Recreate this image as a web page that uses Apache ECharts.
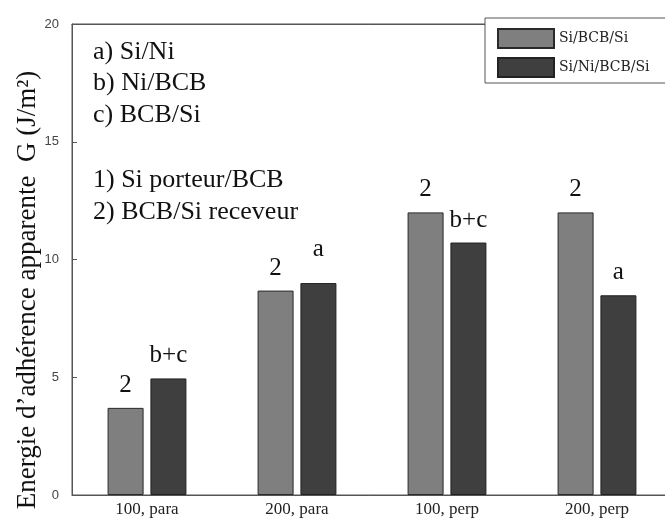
<!DOCTYPE html>
<html>
<head>
<meta charset="utf-8">
<script src="https://cdn.jsdelivr.net/npm/echarts@6/dist/echarts.min.js"></script>
<style>
  html, body { margin: 0; padding: 0; background: #fff; }
  #chart-wrap { width: 665px; height: 521px; }
</style>
</head>
<body>
<div id="chart-wrap"></div>
<script>
;(function(){
  // data
  var categories = ['100, para', '200, para', '100, perp', '200, perp'];
  var seriesNames = ['Si/BCB/Si', 'Si/Ni/BCB/Si'];
  var siBcbSi = [3.7, 8.68, 12.0, 12.0];
  var siNiBcbSi = [4.95, 9.0, 10.72, 8.48];
  var grayLabels = ['2', '2', '2', '2'];
  var darkLabels = ['b+c', 'a', 'b+c', 'a'];
  var yTicks = { min: 0, max: 20, interval: 5 };
  var notes = ['a) Si/Ni', 'b) Ni/BCB', 'c) BCB/Si', '1) Si porteur/BCB', '2) BCB/Si receveur'];
  var noteY = [52, 83, 115, 180, 212];

  var serif = '"Liberation Serif", "Times New Roman", serif';

  function barData(values, labels, extraDist) {
    var out = [];
    for (var i = 0; i < values.length; i++) {
      var d = { value: values[i], label: { formatter: labels[i] } };
      if (extraDist && extraDist[i]) d.label.distance = extraDist[i];
      out.push(d);
    }
    return out;
  }

  var graphics = [];
  for (var i = 0; i < notes.length; i++) {
    graphics.push({
      type: 'text', x: 93, y: noteY[i],
      style: { text: notes[i], fill: '#111', font: '26px ' + serif, verticalAlign: 'middle' }
    });
  }
  graphics.push({
    type: 'text', x: 28, y: 290, rotation: Math.PI / 2,
    style: {
      text: 'Energie d\u2019adh\u00e9rence apparente  G (J/m\u00b2)',
      fill: '#111', font: '27px ' + serif, align: 'center', verticalAlign: 'middle'
    }
  });

  var myChart = echarts.init(document.getElementById('chart-wrap'));
  var option = {
    animation: false,
    backgroundColor: '#fff',
    grid: {
      left: 72, top: 24, width: 600, height: 471,
      show: true, borderColor: '#555', borderWidth: 1,
      outerBoundsMode: 'none'
    },
    legend: {
      orient: 'vertical', left: 485, top: 18,
      padding: [10, 40, 5, 12], itemGap: 8,
      itemWidth: 56, itemHeight: 19, icon: 'rect',
      borderColor: '#555', borderWidth: 1, backgroundColor: '#fff',
      textStyle: { fontFamily: '"DejaVu Serif", serif', fontSize: 14, color: '#222' },
      data: seriesNames
    },
    graphic: graphics,
    xAxis: [{
      type: 'category', data: categories, position: 'bottom',
      axisLine: { lineStyle: { color: '#555' } },
      axisTick: { inside: true, length: 5, alignWithLabel: true, lineStyle: { color: '#555' } },
      axisLabel: { fontFamily: serif, fontSize: 17, color: '#222', margin: 6 }
    }, {
      type: 'category', data: categories, position: 'top',
      axisLine: { lineStyle: { color: '#555' } },
      axisTick: { inside: true, length: 5, alignWithLabel: true, lineStyle: { color: '#555' } },
      axisLabel: { show: false }
    }],
    yAxis: {
      type: 'value', min: yTicks.min, max: yTicks.max, interval: yTicks.interval,
      splitLine: { show: false },
      axisLine: { show: true, lineStyle: { color: '#555' } },
      axisTick: { show: true, inside: true, length: 5, lineStyle: { color: '#555' } },
      axisLabel: { fontFamily: '"Liberation Sans", sans-serif', fontSize: 13, color: '#444', margin: 13 }
    },
    series: [{
      name: seriesNames[0], type: 'bar', barWidth: 36, barGap: '19%',
      itemStyle: { color: '#7f7f7f', borderColor: '#2a2a2a', borderWidth: 1 },
      label: { show: true, position: 'top', distance: 10, fontFamily: serif, fontSize: 25, color: '#111' },
      data: barData(siBcbSi, grayLabels)
    }, {
      name: seriesNames[1], type: 'bar', barWidth: 36,
      itemStyle: { color: '#3f3f3f', borderColor: '#222', borderWidth: 1 },
      label: { show: true, position: 'top', distance: 10, fontFamily: serif, fontSize: 25, color: '#111' },
      data: barData(siNiBcbSi, darkLabels, [0, 21, 0, 0])
    }]
  };
  myChart.setOption(option);
})();
</script>
</body>
</html>
